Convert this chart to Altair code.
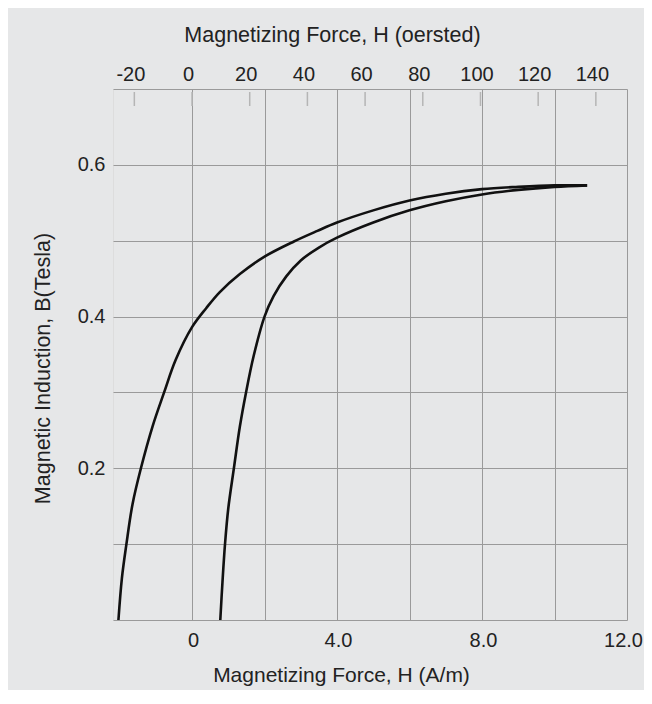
import altair as alt
import pandas as pd

# Descending (left) branch: H in kA/m, B in Tesla
left_H = [-2.03, -1.935, -1.81, -1.64, -1.41, -1.09, -0.77, -0.45, 0.0, 0.39, 0.76, 1.32,
          2.0, 2.81, 3.46, 4.0, 5.0, 6.0, 7.0, 8.0, 9.0, 10.0, 10.9]
left_B = [0.0, 0.055, 0.10, 0.153, 0.20, 0.255, 0.30, 0.343, 0.386, 0.411, 0.432, 0.456,
          0.479, 0.499, 0.513, 0.524, 0.540, 0.553, 0.562, 0.568, 0.571, 0.573, 0.573]

# Ascending (right) branch
right_H = [0.78, 0.84, 0.91, 1.0, 1.155, 1.32, 1.49, 1.70, 2.0, 2.25, 2.6, 3.0, 3.5,
           4.0, 5.0, 6.0, 7.0, 8.0, 9.0, 10.0, 10.9]
right_B = [0.0, 0.05, 0.10, 0.147, 0.20, 0.255, 0.30, 0.348, 0.40, 0.427, 0.453, 0.474, 0.491,
           0.504, 0.524, 0.540, 0.552, 0.561, 0.567, 0.571, 0.573]

# Axis ticks
oersted_ticks = [-20, 0, 20, 40, 60, 80, 100, 120, 140]
x_ticks = [0, 2, 4, 6, 8, 10, 12]
y_ticks = [0.0, 0.1, 0.2, 0.3, 0.4, 0.5, 0.6, 0.7]

X_DOMAIN = [-2.18, 12.0]
Y_DOMAIN = [0.0, 0.7]
KAM_PER_OE = 0.0795775
OE_DOMAIN = [X_DOMAIN[0] / KAM_PER_OE, X_DOMAIN[1] / KAM_PER_OE]

FONT = "Liberation Sans"
TXT = "#222222"
LABEL_SIZE = 20
TITLE_SIZE = 21.5

curves = pd.DataFrame(
    {"H": left_H + right_H,
     "B": left_B + right_B,
     "branch": ["left"] * len(left_H) + ["right"] * len(right_H)}
)
oe_df = pd.DataFrame({"Oe": oersted_ticks})

lines = alt.Chart(curves).mark_line(
    color="#111111", strokeWidth=2.6, interpolate="catmull-rom"
).encode(
    x=alt.X(
        "H:Q",
        scale=alt.Scale(domain=X_DOMAIN, nice=False, zero=False),
        axis=alt.Axis(
            orient="bottom",
            values=x_ticks,
            title="Magnetizing Force, H (A/m)",
            labelExpr="datum.value == 0 ? '0' : (indexof(['4.0','8.0','12.0'], format(datum.value, '.1f')) >= 0 ? format(datum.value, '.1f') : '')",
            grid=True, gridColor="#9a9a9a", gridWidth=1,
            ticks=False, tickSize=0, domain=False,
            labelFlush=False, labelOverlap=False, labelPadding=10,
            labelOffset={"condition": {"test": "datum.value == 12", "value": -4}, "value": 1},
            labelFont=FONT, labelFontSize=LABEL_SIZE, labelColor=TXT,
            titleFont=FONT, titleFontSize=21, titleFontWeight="normal", titleColor=TXT,
            titleX=228, titleY=61, titleBaseline="alphabetic", titleAnchor="middle", titleAlign="center",
        ),
    ),
    y=alt.Y(
        "B:Q",
        scale=alt.Scale(domain=Y_DOMAIN, nice=False, zero=False),
        axis=alt.Axis(
            values=y_ticks,
            title="Magnetic Induction, B(Tesla)",
            labelExpr="indexof(['0.2','0.4','0.6'], format(datum.value, '.1f')) >= 0 ? format(datum.value, '.1f') : ''",
            grid=True, gridColor="#9a9a9a", gridWidth=1,
            ticks=False, tickSize=0, domain=False,
            labelFlush=False, labelOverlap=False, labelPadding=8,
            labelFont=FONT, labelFontSize=LABEL_SIZE, labelColor=TXT,
            titleFont=FONT, titleFontSize=TITLE_SIZE, titleFontWeight="normal", titleColor=TXT,
            titleX=-70, titleY=279, titleAngle=270, titleBaseline="middle", titleAlign="center",
        ),
    ),
    detail="branch:N",
)

top_ticks = alt.Chart(oe_df).mark_rule(color="#b5b5b5", strokeWidth=1.5).encode(
    x=alt.X(
        "Oe:Q",
        scale=alt.Scale(domain=OE_DOMAIN, nice=False, zero=False),
        axis=alt.Axis(
            orient="top",
            values=oersted_ticks,
            title="Magnetizing Force, H (oersted)",
            labelExpr="datum.value < 0 ? '-' + abs(datum.value) : '' + datum.value",
            grid=False, ticks=False, tickSize=0, domain=False,
            labelFlush=False, labelOverlap=False, labelPadding=5, labelOffset=-4,
            labelFont=FONT, labelFontSize=LABEL_SIZE, labelColor=TXT,
            titleFont=FONT, titleFontSize=TITLE_SIZE, titleFontWeight="normal", titleColor=TXT,
            titleX=219, titleY=-48, titleBaseline="alphabetic", titleAnchor="middle", titleAlign="center",
        ),
    ),
    y=alt.value(3),
    y2=alt.value(17),
)

chart = alt.layer(lines, top_ticks).resolve_scale(x="independent").properties(
    width=514,
    height=531,
    background="#e6e7e8",
    padding={"left": 105, "top": 81, "right": 17, "bottom": 70},
    autosize=alt.AutoSizeParams(type="none"),
).configure_view(
    stroke="#111111", strokeWidth=3, fill="white"
).configure(font=FONT)

chart.save("out.html", embed_options={"renderer": "svg", "actions": False})
